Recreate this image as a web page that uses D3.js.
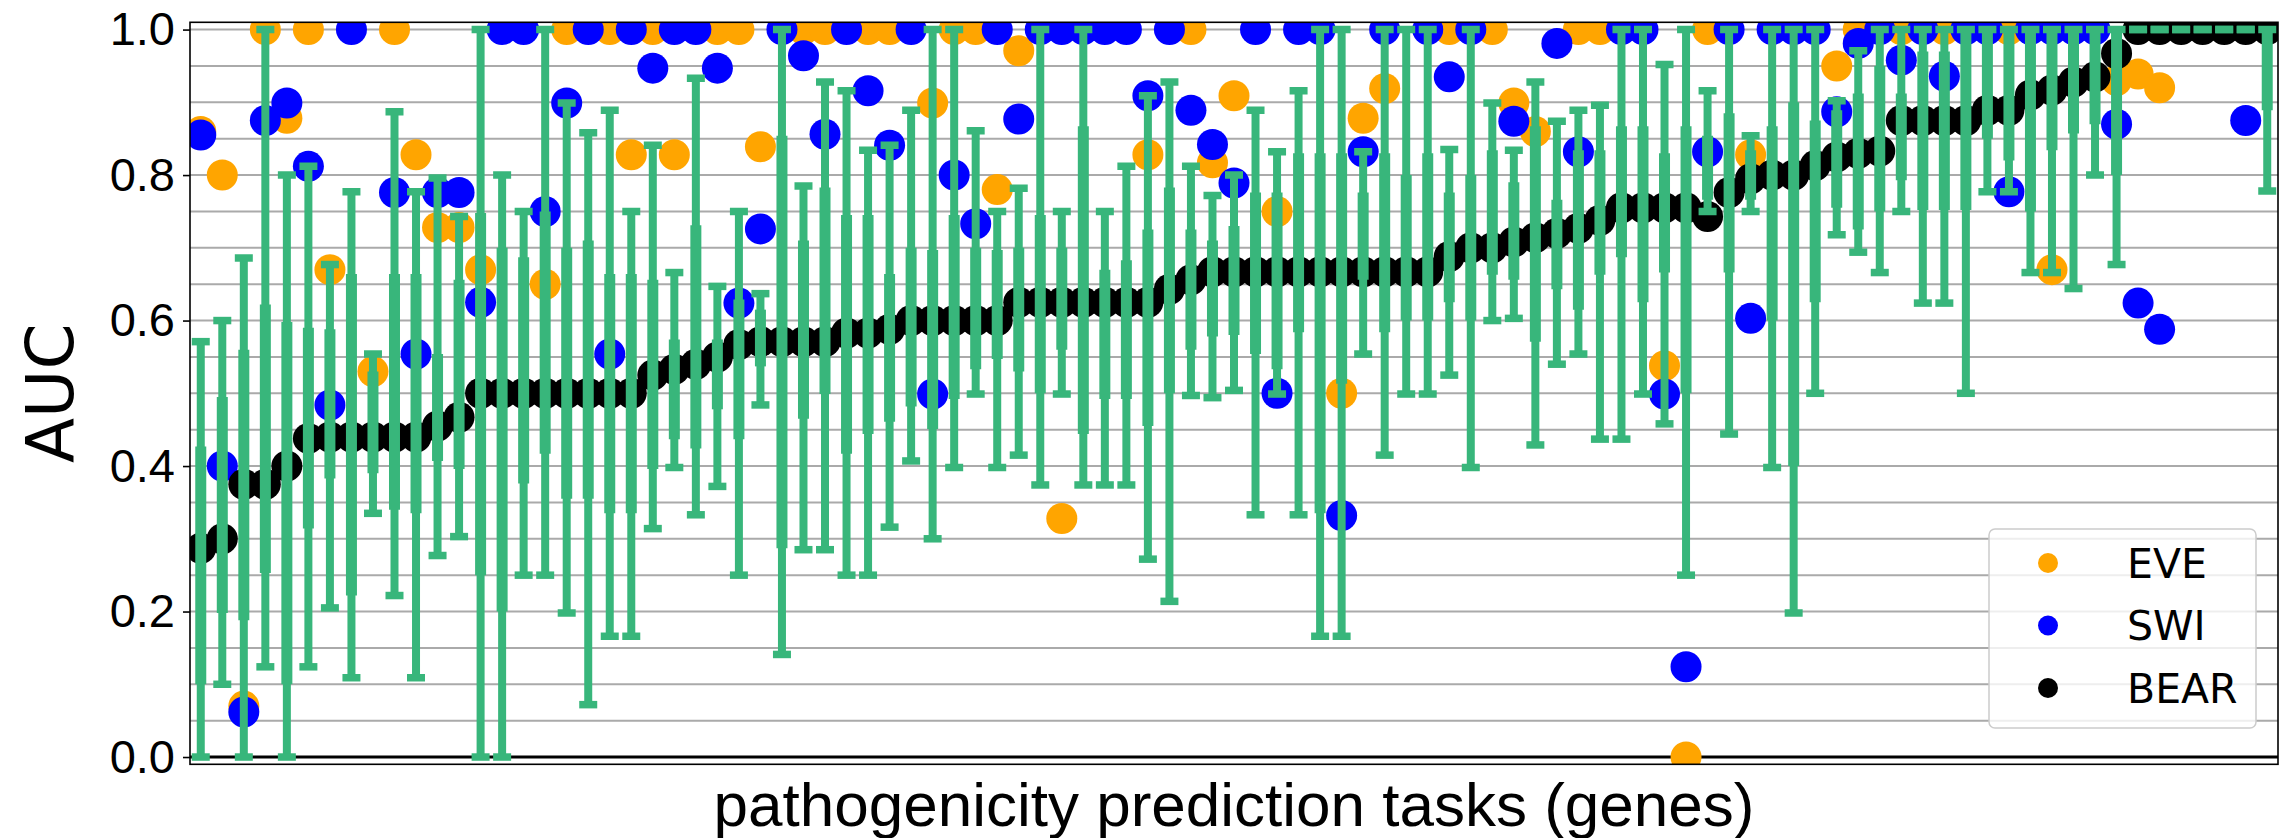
<!DOCTYPE html>
<html lang="en">
<head>
<meta charset="utf-8">
<title>AUC per pathogenicity prediction task</title>
<style>
  body { margin:0; background:white; }
  svg { display:block; font-family:'DejaVu Sans', sans-serif; }
  .yaxis text { font-size:47px; fill:black; }
  .yaxis line { stroke:black; stroke-width:1.6; }
  .xlabel { font-family:'Liberation Sans', Arial, sans-serif; font-size:62px; }
  .ylabel { font-size:66px; }
  .legend text { font-size:41px; }
</style>
</head>
<body>
<div id="canvas"></div>
<script src="https://cdnjs.cloudflare.com/ajax/libs/d3/7.8.5/d3.min.js"></script>
<script>
// one entry per gene / task, ordered as in the figure
var bear = [0.287, 0.30, 0.375, 0.375, 0.40, 0.438, 0.44, 0.44, 0.44, 0.44,
  0.44, 0.455, 0.467, 0.50, 0.50, 0.50, 0.50, 0.50, 0.50, 0.50,
  0.50, 0.525, 0.533, 0.54, 0.55, 0.567, 0.571, 0.571, 0.571, 0.571,
  0.583, 0.583, 0.588, 0.60, 0.60, 0.60, 0.60, 0.60, 0.625, 0.625,
  0.625, 0.625, 0.625, 0.625, 0.625, 0.643, 0.656, 0.667, 0.667, 0.667,
  0.667, 0.667, 0.667, 0.667, 0.667, 0.667, 0.667, 0.667, 0.688, 0.70,
  0.70, 0.708, 0.714, 0.72, 0.727, 0.738, 0.755, 0.755, 0.755, 0.755,
  0.743, 0.776, 0.795, 0.80, 0.80, 0.813, 0.825, 0.83, 0.833, 0.875,
  0.875, 0.875, 0.875, 0.889, 0.889, 0.91, 0.917, 0.928, 0.935, 0.967,
  1, 1, 1, 1, 1, 1, 1];

// outer interval (with caps)
var ciLow = [0.0, 0.10, 0.0, 0.124, 0.0, 0.124, 0.205, 0.109, 0.335, 0.222,
  0.109, 0.277, 0.303, 0.0, 0.0, 0.25, 0.25, 0.198, 0.072, 0.166,
  0.166, 0.314, 0.398, 0.333, 0.372, 0.25, 0.484, 0.141, 0.285, 0.285,
  0.25, 0.25, 0.316, 0.407, 0.30, 0.398, 0.499, 0.398, 0.415, 0.374,
  0.499, 0.374, 0.374, 0.374, 0.272, 0.214, 0.497, 0.494, 0.504, 0.333,
  0.499, 0.333, 0.166, 0.166, 0.554, 0.415, 0.499, 0.499, 0.525, 0.398,
  0.60, 0.603, 0.429, 0.54, 0.554, 0.437, 0.437, 0.499, 0.458, 0.25,
  0.75, 0.444, 0.75, 0.398, 0.198, 0.50, 0.718, 0.694, 0.666, 0.75,
  0.624, 0.624, 0.50, 0.777, 0.777, 0.666, 0.666, 0.644, 0.80, 0.677,
  1, 1, 1, 1, 1, 1, 0.778];
var ciHigh = [0.571, 0.60, 0.686, 1.0, 0.80, 0.812, 0.677, 0.777, 0.554, 0.887,
  0.777, 0.796, 0.743, 1.0, 0.80, 0.75, 1.0, 0.899, 0.858, 0.889,
  0.75, 0.841, 0.666, 0.933, 0.647, 0.75, 0.637, 1.0, 0.785, 0.928,
  0.916, 0.834, 0.841, 0.889, 1.0, 1.0, 0.861, 0.75, 0.782, 1.0,
  0.75, 1.0, 0.75, 0.812, 0.909, 0.928, 0.812, 0.772, 0.80, 0.889,
  0.832, 0.916, 1.0, 1.0, 0.832, 1.0, 1.0, 1.0, 0.835, 1.0,
  0.899, 0.834, 0.928, 0.874, 0.889, 0.896, 1.0, 1.0, 0.952, 1.0,
  0.916, 1.0, 0.854, 1.0, 1.0, 1.0, 0.902, 0.971, 1.0, 1.0,
  1, 1, 1, 1, 1, 1, 1, 1, 1, 1,
  1, 1, 1, 1, 1, 1, 1];

// inner interval (thick part)
var boxLow = [0.10, 0.198, 0.188, 0.253, 0.10, 0.314, 0.383, 0.222, 0.39, 0.34,
  0.335, 0.407, 0.396, 0.25, 0.20, 0.376, 0.417, 0.355, 0.355, 0.335,
  0.335, 0.396, 0.437, 0.424, 0.478, 0.437, 0.537, 0.287, 0.465, 0.499,
  0.417, 0.444, 0.461, 0.482, 0.451, 0.492, 0.533, 0.547, 0.53, 0.50,
  0.56, 0.444, 0.492, 0.492, 0.455, 0.50, 0.56, 0.578, 0.58, 0.554,
  0.533, 0.584, 0.335, 0.513, 0.656, 0.584, 0.60, 0.60, 0.625, 0.60,
  0.663, 0.656, 0.571, 0.643, 0.615, 0.663, 0.687, 0.625, 0.666, 0.50,
  0.766, 0.666, 0.766, 0.60, 0.40, 0.625, 0.755, 0.725, 0.75, 0.793,
  0.752, 0.752, 0.752, 0.85, 0.82, 0.75, 0.834, 0.857, 0.87, 0.80,
  1, 1, 1, 1, 1, 1, 0.889];
var boxHigh = [0.427, 0.495, 0.56, 0.622, 0.598, 0.59, 0.588, 0.664, 0.53, 0.664,
  0.664, 0.554, 0.656, 0.748, 0.70, 0.687, 0.75, 0.70, 0.71, 0.664,
  0.664, 0.656, 0.574, 0.731, 0.574, 0.629, 0.615, 0.854, 0.71, 0.783,
  0.745, 0.745, 0.664, 0.70, 0.697, 0.745, 0.70, 0.697, 0.70, 0.745,
  0.70, 0.867, 0.67, 0.683, 0.725, 0.783, 0.725, 0.71, 0.73, 0.776,
  0.776, 0.83, 0.83, 0.83, 0.776, 0.83, 0.80, 0.83, 0.776, 0.80,
  0.834, 0.79, 0.867, 0.766, 0.834, 0.834, 0.867, 0.867, 0.83, 0.867,
  0.854, 0.885, 0.834, 0.867, 0.90, 0.875, 0.889, 0.912, 0.95, 0.912,
  0.97, 0.97, 1.0, 1.0, 1.0, 1.0, 1.0, 1.0, 1.0, 1.0,
  1, 1, 1, 1, 1, 1, 1];

// null = point not visible in the figure
var eve = [0.86, 0.80, 0.07, 1.0, 0.878, 1.0, 0.67, null, 0.53, 1.0,
  0.828, 0.728, 0.728, 0.67, null, null, 0.65, 1.0, null, 1.0,
  0.828, 1.0, 0.828, null, 1.0, 1.0, 0.839, null, 1.0, 1.0,
  null, 1.0, 1.0, null, 0.899, 1.0, 1.0, 0.78, 0.971, null,
  0.328, null, null, null, 0.828, null, 1.0, 0.817, 0.909, null,
  0.75, null, null, 0.5, 0.878, 0.919, null, null, 1.0, null,
  1.0, 0.899, 0.86, null, 1.0, 1.0, null, null, 0.538, 0.0,
  1.0, null, 0.828, null, null, null, 0.95, 1.0, null, 1.0,
  null, 1.0, null, null, 1.0, null, 0.67, null, null, 0.93,
  0.939, 0.92, null, null, null, null, null];
var swi = [0.855, 0.40, 0.062, 0.875, 0.899, 0.812, 0.484, 1.0, null, 0.776,
  0.554, 0.776, 0.776, 0.625, 1.0, 1.0, 0.75, 0.899, 1.0, 0.554,
  1.0, 0.947, 1.0, 1.0, 0.947, 0.624, 0.726, 1.0, 0.964, 0.856,
  1.0, 0.916, 0.841, 1.0, 0.499, 0.80, 0.733, 1.0, 0.877, 1.0,
  1.0, 1.0, 1.0, 1.0, 0.909, 1.0, 0.889, 0.842, 0.789, 1.0,
  0.5, 1.0, 1.0, 0.332, 0.832, 1.0, null, 1.0, 0.935, 1.0,
  null, 0.874, null, 0.981, 0.832, null, 1.0, 1.0, 0.499, 0.124,
  0.832, 1.0, 0.603, 1.0, 1.0, 1.0, 0.887, 0.981, 1.0, 0.958,
  1.0, 0.936, 1.0, 1.0, 0.777, 1.0, 1.0, 1.0, 1.0, 0.87,
  0.624, 0.588, null, null, null, 0.875, null];

var yTicks = [0.0, 0.2, 0.4, 0.6, 0.8, 1.0];
var legendItems = [{name:"EVE", color:"orange"}, {name:"SWI", color:"blue"}, {name:"BEAR", color:"black"}];
var green = "#38b67b";

var width = 2280, height = 838;
var plot = {left:190, right:2278, top:22.3, bottom:764.3};

var x = d3.scaleLinear().domain([-0.5, bear.length - 0.5]).range([plot.left, plot.right]),
    y = d3.scaleLinear().domain([-0.01, 1.01]).range([plot.bottom, plot.top]);

var svg = d3.select("#canvas").append("svg")
    .attr("width", width)
    .attr("height", height);

svg.append("defs").append("clipPath").attr("id", "plotclip")
  .append("rect")
    .attr("x", plot.left).attr("y", plot.top)
    .attr("width", plot.right - plot.left).attr("height", plot.bottom - plot.top);

// grid every 0.05
svg.append("g").selectAll("line")
    .data(d3.range(1, 21).map(function(k){ return k / 20; }))
  .enter().append("line")
    .attr("x1", plot.left).attr("x2", plot.right)
    .attr("y1", function(d){ return y(d); }).attr("y2", function(d){ return y(d); })
    .attr("stroke", "#aaaaaa").attr("stroke-width", 2);

// zero line
svg.append("line")
    .attr("x1", plot.left).attr("x2", plot.right)
    .attr("y1", y(0)).attr("y2", y(0))
    .attr("stroke", "black").attr("stroke-width", 3);

var tasks = d3.range(bear.length);
var marks = svg.append("g").attr("clip-path", "url(#plotclip)");

function dots(values, color) {
  marks.append("g").selectAll("circle")
      .data(tasks.filter(function(i){ return values[i] !== null; }))
    .enter().append("circle")
      .attr("cx", function(i){ return x(i); })
      .attr("cy", function(i){ return y(values[i]); })
      .attr("r", 15.5)
      .attr("fill", color);
}
dots(eve, "orange");
dots(swi, "blue");
dots(bear, "black");

// error bars
var eb = marks.append("g").selectAll("g").data(tasks).enter().append("g");
eb.append("line")
    .attr("x1", function(i){ return x(i); }).attr("x2", function(i){ return x(i); })
    .attr("y1", function(i){ return y(ciLow[i]); }).attr("y2", function(i){ return y(ciHigh[i]); })
    .attr("stroke", green).attr("stroke-width", 8);
eb.append("line")
    .attr("x1", function(i){ return x(i); }).attr("x2", function(i){ return x(i); })
    .attr("y1", function(i){ return y(boxLow[i]); }).attr("y2", function(i){ return y(boxHigh[i]); })
    .attr("stroke", green).attr("stroke-width", 11);
[ciLow, ciHigh].forEach(function(arr){
  eb.append("line")
      .attr("x1", function(i){ return x(i) - 9; }).attr("x2", function(i){ return x(i) + 9; })
      .attr("y1", function(i){ return y(arr[i]); }).attr("y2", function(i){ return y(arr[i]); })
      .attr("stroke", green).attr("stroke-width", 7.5);
});

// frame
svg.append("rect")
    .attr("x", plot.left).attr("y", plot.top)
    .attr("width", plot.right - plot.left).attr("height", plot.bottom - plot.top)
    .attr("fill", "none").attr("stroke", "black").attr("stroke-width", 1.6);

// y axis
var yAxis = svg.append("g")
    .attr("class", "yaxis")
    .attr("transform", "translate(" + plot.left + ",0)")
    .call(d3.axisLeft(y).tickValues(yTicks).tickFormat(d3.format(".1f")).tickSize(7).tickPadding(8));
yAxis.select(".domain").remove();

svg.append("text")
    .attr("class", "ylabel")
    .attr("transform", "translate(73," + y(0.5) + ") rotate(-90)")
    .attr("text-anchor", "middle")
    .text("AUC");

svg.append("text")
    .attr("class", "xlabel")
    .attr("x", (plot.left + plot.right) / 2)
    .attr("y", 826)
    .attr("text-anchor", "middle")
    .text("pathogenicity prediction tasks (genes)");

// legend
var legend = svg.append("g").attr("class", "legend");
legend.append("rect")
    .attr("x", 1989).attr("y", 529).attr("width", 267).attr("height", 199)
    .attr("rx", 6)
    .attr("fill", "white").attr("fill-opacity", 0.8)
    .attr("stroke", "#cccccc").attr("stroke-width", 1.5);
legendItems.forEach(function(d, k){
  var ly = 563 + k * 62.5;
  legend.append("circle").attr("cx", 2048).attr("cy", ly).attr("r", 10).attr("fill", d.color);
  legend.append("text").attr("x", 2127).attr("y", ly).attr("dy", "0.36em").text(d.name);
});
</script>
</body>
</html>
